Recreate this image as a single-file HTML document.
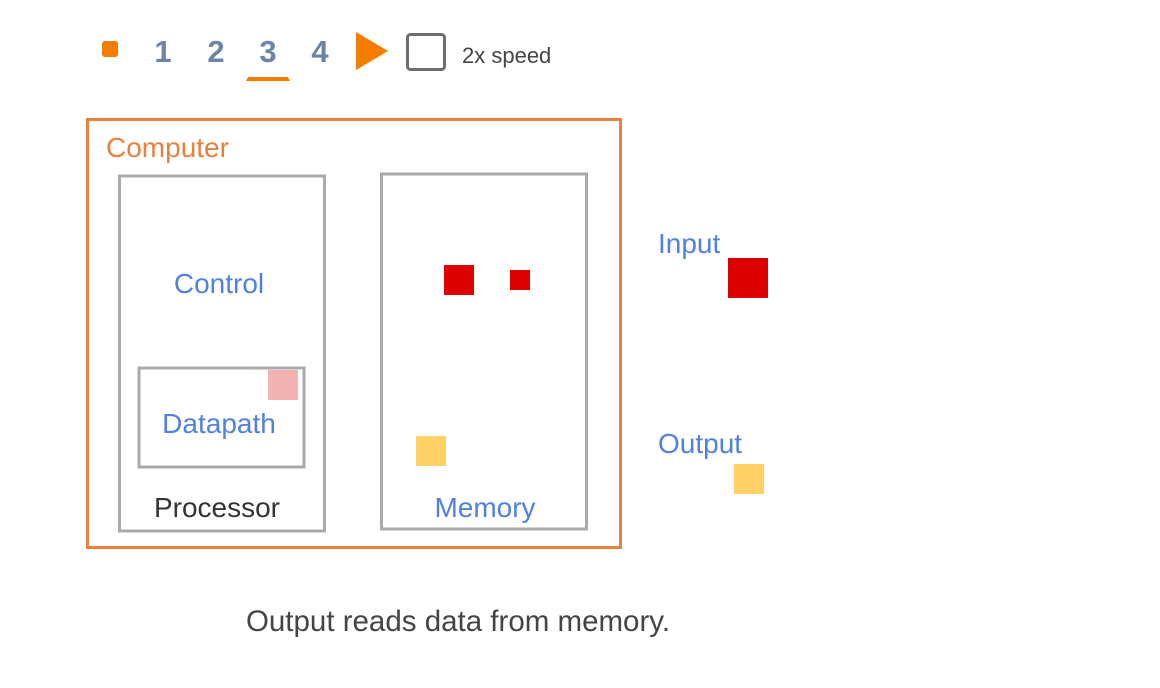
<!DOCTYPE html>
<html><head><style>body{margin:0;background:#fff}svg{display:block}</style></head><body>
<svg width="1160" height="688" xmlns="http://www.w3.org/2000/svg" font-family="Liberation Sans, sans-serif">
<rect x="102" y="41" width="16" height="16" rx="3" fill="#f47c00"/>
<g font-size="31" font-weight="bold" fill="#6a85a8" text-anchor="middle">
<text x="163" y="62">1</text><text x="216" y="62">2</text><text x="268" y="62">3</text><text x="320" y="62">4</text></g>
<path d="M248 77 H288 L290 81 H246 Z" fill="#f47c00"/>
<polygon points="356,32 388,51 356,70" fill="#f47c00"/>
<rect x="407.5" y="34.5" width="37" height="35" rx="3" fill="none" stroke="#6e6e6e" stroke-width="3"/>
<text x="462" y="63" font-size="22" fill="#444">2x speed</text>
<rect x="87.5" y="119.5" width="533" height="428" fill="none" stroke="#e8803f" stroke-width="3"/>
<text x="106" y="157" font-size="28" fill="#e8803f">Computer</text>
<rect x="119.5" y="176" width="205" height="355" fill="none" stroke="#aaa" stroke-width="3"/>
<rect x="381.5" y="174" width="205" height="355" fill="none" stroke="#aaa" stroke-width="3"/>
<rect x="139" y="368" width="165" height="99" fill="none" stroke="#aaa" stroke-width="3"/>
<g font-size="28" text-anchor="middle">
<text x="219" y="293" fill="#5080e0">Control</text>
<text x="219" y="433" fill="#5080e0">Datapath</text>
<text x="217" y="517" fill="#333">Processor</text>
<text x="485" y="517" fill="#5080e0">Memory</text>
</g>
<rect x="268" y="370" width="30" height="30" fill="#f2b3b3"/>
<rect x="444" y="265" width="30" height="30" fill="#dd0000"/>
<rect x="510" y="270" width="20" height="20" fill="#dd0000"/>
<rect x="416" y="436" width="30" height="30" fill="#ffd166"/>
<text x="658" y="253" font-size="28" fill="#5080e0">Input</text>
<rect x="728" y="258" width="40" height="40" fill="#dd0000"/>
<text x="658" y="453" font-size="28" fill="#5080e0">Output</text>
<rect x="734" y="464" width="30" height="30" fill="#ffd166"/>
<text x="458" y="631" font-size="29.5" fill="#444" text-anchor="middle">Output reads data from memory.</text>
</svg>
</body></html>
